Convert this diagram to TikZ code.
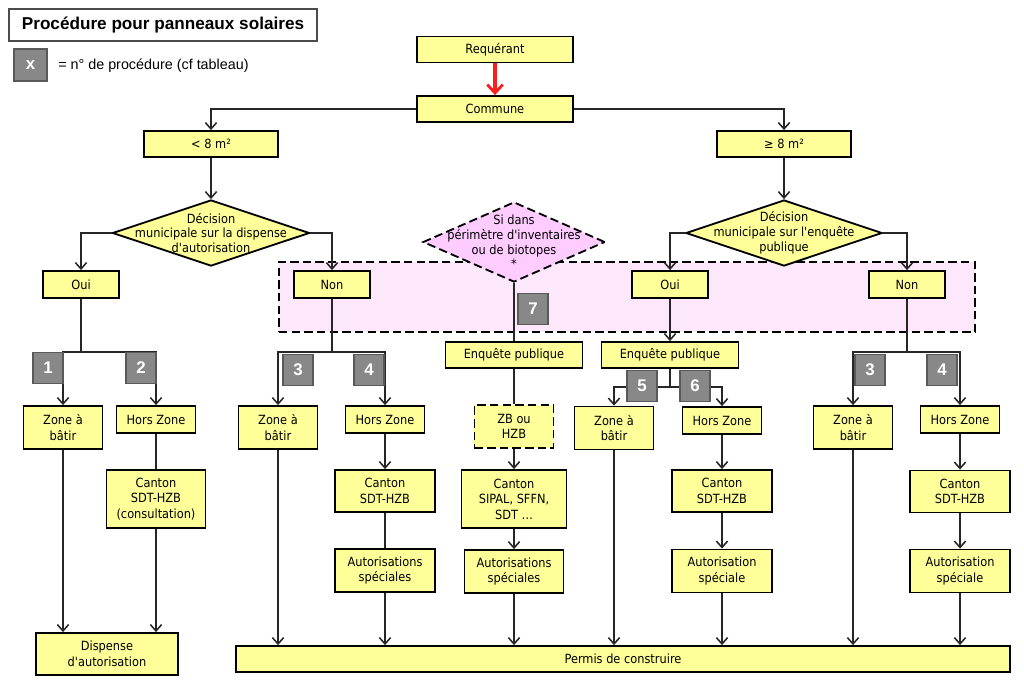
\documentclass[tikz,border=0pt]{standalone}
\usepackage{fontspec}
\setmainfont{DejaVu Sans Condensed}
\newfontfamily\arialfont{Liberation Sans}
\usetikzlibrary{shapes.geometric,arrows.meta}

\definecolor{boxyellow}{RGB}{255,255,153}
\definecolor{zonepink}{RGB}{252,232,250}
\definecolor{diampink}{RGB}{255,204,255}
\definecolor{badgegray}{RGB}{136,136,136}
\definecolor{flowred}{RGB}{250,30,30}

\newcommand\apos{\textquotesingle}

\tikzset{
  box/.style={draw, fill=boxyellow, line width=1.3pt, inner sep=1pt, align=center,
    font=\fontsize{9}{11}\selectfont},
  decision/.style={diamond, draw, fill=boxyellow, line width=1.3pt, inner sep=0pt},
  dectext/.style={align=center, font=\fontsize{9}{10.5}\selectfont},
  badge/.style={draw=black!65, fill=badgegray, line width=0.9pt, minimum width=0.75cm,
    minimum height=0.775cm, inner sep=0pt, text=white,
    font=\arialfont\bfseries\fontsize{12}{12}\selectfont},
  link/.style={line width=0.8pt, draw=black!85},
  arr/.style={-{Straight Barb[length=4.5pt,width=8pt,line width=1.1pt]}},
  dashbox/.style={dash pattern=on 6pt off 3pt},
}

\begin{document}
\begin{tikzpicture}[x=0.025cm,y=-0.025cm,line cap=butt,line join=miter]
  \useasboundingbox (0,0) rectangle (1024,691);

  \node[draw=black!70, line width=0.8pt, minimum width=7.7cm, minimum height=0.8cm,
    font=\arialfont\bfseries\fontsize{12.2}{14}\selectfont] (titre) at (163,25)
    {Procédure pour panneaux solaires};
  \node[badge, minimum width=0.825cm, minimum height=0.8cm] (legx) at (30.5,65) {x};
  \node[anchor=west, inner sep=0pt, font=\arialfont\fontsize{10.2}{12}\selectfont] (legtxt)
    at (58,66) {= n° de procédure (cf tableau)};

  % zone pointillee
  \node[draw, dashbox, fill=zonepink, line width=1.3pt, minimum width=17.4cm,
    minimum height=1.75cm, inner sep=0pt] (zone) at (627,297) {};

  \node[box, minimum width=3.9cm, minimum height=0.65cm] (req) at (495,49.5) {Requérant};
  \node[box, minimum width=3.9cm, minimum height=0.65cm] (commune) at (495,109) {Commune};
  \node[box, minimum width=3.35cm, minimum height=0.65cm] (petit) at (211,144) {< 8 m²};
  \node[box, minimum width=3.35cm, minimum height=0.65cm] (grand) at (784,144) {≥ 8 m²};

  \node[decision, minimum width=4.925cm, minimum height=1.65cm] (decA) at (211,233) {};
  \node[dectext] (decAtxt) at (211,233) {Décision\\municipale sur la dispense\\d\apos autorisation};
  \node[decision, minimum width=4.9cm, minimum height=1.65cm] (decB) at (784,233) {};
  \node[dectext] (decBtxt) at (784,233) {Décision\\municipale sur l\apos enquête\\publique};
  \node[decision, dashbox, fill=diampink, minimum width=4.55cm, minimum height=2cm]
    (decC) at (514,242) {};
  \node[dectext] (decCtxt) at (514,242) {Si dans\\périmètre d\apos inventaires\\ou de biotopes\\*};

  \node[box, minimum width=1.9cm, minimum height=0.675cm] (ouiA) at (81,284.5) {Oui};
  \node[box, minimum width=1.9cm, minimum height=0.675cm] (nonA) at (332,284.5) {Non};
  \node[box, minimum width=1.9cm, minimum height=0.675cm] (ouiB) at (670,284.5) {Oui};
  \node[box, minimum width=1.9cm, minimum height=0.675cm] (nonB) at (907,284.5) {Non};

  \node[box, minimum width=3.425cm, minimum height=0.65cm] (enqC) at (514,355) {Enquête publique};
  \node[box, minimum width=3.425cm, minimum height=0.65cm] (enqB) at (670,355) {Enquête publique};

  \node[box, minimum width=1.975cm, minimum height=1.075cm] (zabA) at (63,427.5) {Zone à\\bâtir};
  \node[box, minimum width=1.975cm, minimum height=0.675cm] (hzA) at (156,419.5) {Hors Zone};
  \node[box, minimum width=1.975cm, minimum height=1.075cm] (zabN) at (278,427.5) {Zone à\\bâtir};
  \node[box, minimum width=1.975cm, minimum height=0.675cm] (hzN) at (385,419.5) {Hors Zone};
  \node[box, dashbox, minimum width=1.975cm, minimum height=1.075cm] (zbC) at (514,426.5) {ZB ou\\HZB};
  \node[box, minimum width=1.975cm, minimum height=1.075cm] (zabB) at (614,428) {Zone à\\bâtir};
  \node[box, minimum width=1.975cm, minimum height=0.675cm] (hzB) at (722,420.5) {Hors Zone};
  \node[box, minimum width=1.975cm, minimum height=1.075cm] (zabR) at (853,427.5) {Zone à\\bâtir};
  \node[box, minimum width=1.975cm, minimum height=0.675cm] (hzR) at (960,419.5) {Hors Zone};

  \node[box, minimum width=2.475cm, minimum height=1.45cm] (cantA) at (156,499) {Canton\\SDT-HZB\\(consultation)};
  \node[box, minimum width=2.5cm, minimum height=1.05cm] (cantN) at (385,491) {Canton\\SDT-HZB};
  \node[box, minimum width=2.625cm, minimum height=1.45cm] (cantC) at (514,499) {Canton\\SIPAL, SFFN,\\SDT \dots};
  \node[box, minimum width=2.5cm, minimum height=1.05cm] (cantB) at (722,491) {Canton\\SDT-HZB};
  \node[box, minimum width=2.5cm, minimum height=1.05cm] (cantR) at (960,491.5) {Canton\\SDT-HZB};

  \node[box, minimum width=2.5cm, minimum height=1.075cm] (autN) at (385,570.5) {Autorisations\\spéciales};
  \node[box, minimum width=2.475cm, minimum height=1.075cm] (autC) at (514,571.5) {Autorisations\\spéciales};
  \node[box, minimum width=2.5cm, minimum height=1.075cm] (autB) at (722,571) {Autorisation\\spéciale};
  \node[box, minimum width=2.5cm, minimum height=1.075cm] (autR) at (960,571) {Autorisation\\spéciale};

  \node[box, minimum width=3.55cm, minimum height=1.05cm] (disp) at (107,654) {Dispense\\d\apos autorisation};
  \node[box, minimum width=19.35cm, minimum height=0.65cm] (permis) at (623,659) {Permis de construire};

  \coordinate (jA) at (81,352);
  \coordinate (jN) at (332,352);
  \coordinate (jB) at (670,387);
  \coordinate (jR) at (907,352);

  \draw[draw=flowred, line width=2.2pt, -{Straight Barb[length=6pt,width=11pt,line width=2pt]}]
    (req.south) -- (commune.north);
  \draw[link,arr] (commune.west) -| (petit.north);
  \draw[link,arr] (commune.east) -| (grand.north);
  \draw[link,arr] (petit.south) -- (decA.north);
  \draw[link,arr] (grand.south) -- (decB.north);
  \draw[link,arr] (decA.west) -| (ouiA.north);
  \draw[link,arr] (decA.east) -| (nonA.north);
  \draw[link,arr] (decB.west) -| (ouiB.north);
  \draw[link,arr] (decB.east) -| (nonB.north);
  \draw[link] (decC.south) -- (enqC.north);
  \draw[link,arr] (ouiB.south) -- (enqB.north);

  \draw[link] (ouiA.south) -- (jA);
  \draw[link,arr] (jA) -| (zabA.north);
  \draw[link,arr] (jA) -| (hzA.north);
  \draw[link] (nonA.south) -- (jN);
  \draw[link,arr] (jN) -| (zabN.north);
  \draw[link,arr] (jN) -| (hzN.north);
  \draw[link] (enqB.south) -- (jB);
  \draw[link,arr] (jB) -| (zabB.north);
  \draw[link,arr] (jB) -| (hzB.north);
  \draw[link] (nonB.south) -- (jR);
  \draw[link,arr] (jR) -| (zabR.north);
  \draw[link,arr] (jR) -| (hzR.north);

  \draw[link,arr] (zabA.south) -- (zabA.south |- disp.north);
  \draw[link] (hzA) -- (cantA);
  \draw[link,arr] (cantA.south) -- (cantA.south |- disp.north);
  \draw[link,arr] (zabN.south) -- (zabN.south |- permis.north);
  \draw[link,arr] (hzN) -- (cantN);
  \draw[link] (cantN) -- (autN);
  \draw[link,arr] (autN.south) -- (autN.south |- permis.north);
  \draw[link] (enqC) -- (zbC);
  \draw[link,arr] (zbC) -- (cantC);
  \draw[link,arr] (cantC) -- (autC);
  \draw[link,arr] (autC.south) -- (autC.south |- permis.north);
  \draw[link,arr] (zabB.south) -- (zabB.south |- permis.north);
  \draw[link,arr] (hzB) -- (cantB);
  \draw[link,arr] (cantB) -- (autB);
  \draw[link,arr] (autB.south) -- (autB.south |- permis.north);
  \draw[link,arr] (zabR.south) -- (zabR.south |- permis.north);
  \draw[link,arr] (hzR) -- (cantR);
  \draw[link,arr] (cantR) -- (autR);
  \draw[link,arr] (autR.south) -- (autR.south |- permis.north);

  \node[badge] (b1) at (48,368) {1};
  \node[badge] (b2) at (141,368) {2};
  \node[badge] (b3) at (298,370) {3};
  \node[badge] (b4) at (369,370) {4};
  \node[badge] (b7) at (533,309) {7};
  \node[badge] (b5) at (642,386) {5};
  \node[badge] (b6) at (695,386) {6};
  \node[badge] (b3r) at (870,370) {3};
  \node[badge] (b4r) at (942,370) {4};
\end{tikzpicture}
\end{document}
